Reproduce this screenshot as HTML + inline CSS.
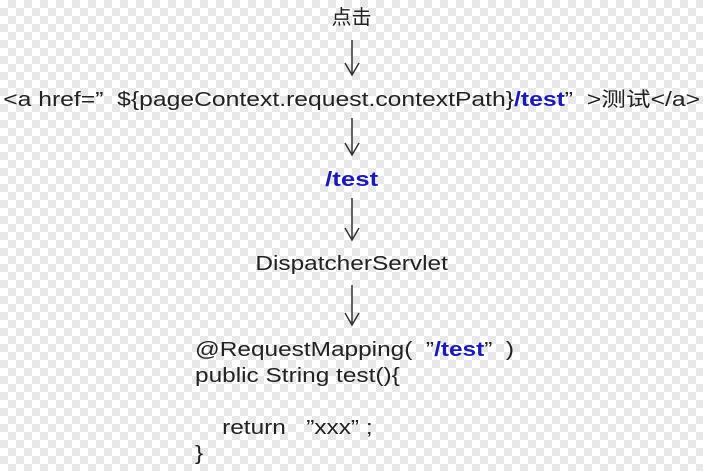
<!DOCTYPE html>
<html><head><meta charset="utf-8"><style>
html,body{margin:0;padding:0}
body{width:703px;height:471px;position:relative;overflow:hidden;
background-color:#fff;
background-image:linear-gradient(45deg,#e8e8e8 25%,transparent 25%,transparent 75%,#e8e8e8 75%),linear-gradient(45deg,#e8e8e8 25%,transparent 25%,transparent 75%,#e8e8e8 75%);
background-size:16px 16px;background-position:0 0,8px 8px;
font-family:"Liberation Sans","Noto Sans CJK SC",sans-serif;color:#222;font-size:20px}
.t{position:absolute;white-space:nowrap;line-height:26px;transform:scaleX(1.22)}
.c{left:0;width:703px;text-align:center;transform-origin:351px 0}
.l{transform-origin:0 0}
b{color:#1c1ca8}
svg{position:absolute;left:0;top:0}
</style></head><body>
<div class="t c" style="top:5px;transform:none">点击</div>
<div class="t c" style="top:87px;transform:scaleX(1.235)">&lt;a href=”&nbsp; ${pageContext.request.contextPath}<b>/test</b>”&nbsp; &gt;测试&lt;/a&gt;</div>
<div class="t c" style="top:167px;transform:scaleX(1.29)"><b>/test</b></div>
<div class="t c" style="top:251px">DispatcherServlet</div>
<div class="t l" style="left:195px;top:337px">@RequestMapping(&nbsp;&nbsp;”<b>/test</b>”&nbsp;&nbsp;)<br>public String test(){<br><br>&nbsp;&nbsp;&nbsp;&nbsp;return &nbsp;&nbsp;”xxx”&nbsp;;<br>}</div>
<svg width="703" height="471" stroke="#333" stroke-width="1.5" fill="none">
<path d="M352 40V75M345 63L352 75L359 63"/>
<path d="M352 118V155M345 143L352 155L359 143"/>
<path d="M352 198V240M345 228L352 240L359 228"/>
<path d="M352 285V325M345 313L352 325L359 313"/>
</svg>
</body></html>
